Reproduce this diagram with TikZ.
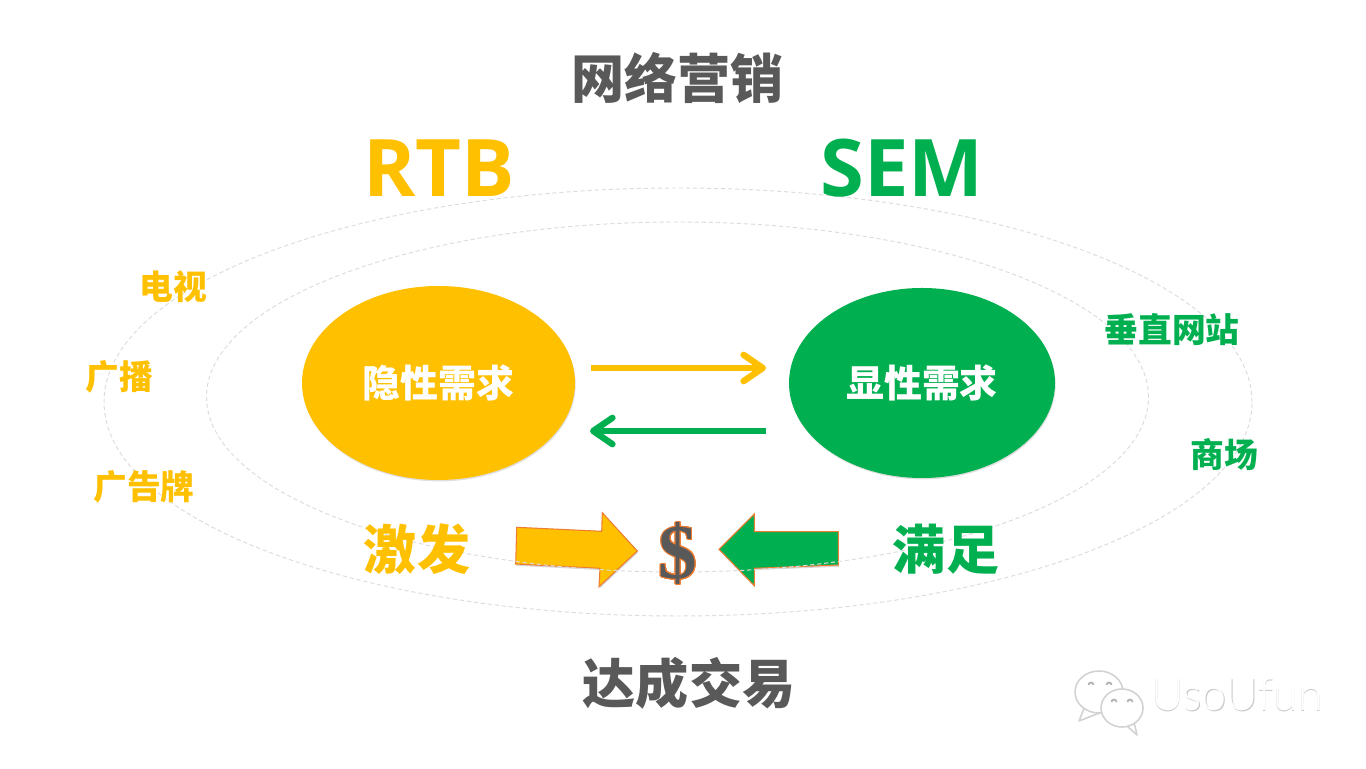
\documentclass[tikz,border=0pt]{standalone}
\usepackage{fontspec}
\usepackage{xcolor}
\usepackage{contour}
\setmainfont{Open Sans}
\newfontfamily\cjk{Noto Sans CJK SC}
\newfontfamily\dollarfont{Liberation Serif}
\newfontfamily\markfont{Lato}[UprightFont=* Light]
\usetikzlibrary{arrows.meta,shapes.geometric,shadows}
\definecolor{rtbcol}{HTML}{FFC000}
\definecolor{semcol}{HTML}{00B050}
\definecolor{titlecol}{HTML}{595959}
\definecolor{ringcol}{HTML}{DDDDDD}
\definecolor{edgecol}{HTML}{ED7D31}
\contourlength{0.25pt}
\tikzset{
  ring/.style={draw=ringcol,line width=0.28pt,dash pattern=on 1.2pt off 0.8pt},
  title/.style={font=\cjk\bfseries\fontsize{15.1}{15}\selectfont,text=titlecol},
  brand/.style={font=\bfseries\fontsize{22.6}{23}\selectfont},
  media/.style={font=\cjk\bfseries\fontsize{9.6}{10}\selectfont},
  need/.style={ellipse,inner sep=0pt,text=white,font=\cjk\bfseries\fontsize{10.8}{11}\selectfont,
    drop shadow={shadow xshift=0.2pt,shadow yshift=-0.4pt,opacity=0.25}},
  verb/.style={font=\cjk\bfseries\fontsize{15.1}{15}\selectfont},
  flow/.style={line width=1.8pt,-{Straight Barb[round,length=5.5pt,width=7.5pt]},
    preaction={draw=black,opacity=0.18,transform canvas={yshift=-0.7pt}}},
  block/.style={draw=edgecol,line width=0.3pt,drop shadow={shadow xshift=0.2pt,shadow yshift=-0.5pt,opacity=0.3}},
  bubble/.style={draw=gray!35,fill=white,line width=0.45pt,line join=round}
}
\begin{document}
\begin{tikzpicture}
    \useasboundingbox (0,0) rectangle (13.66,7.68);
    \fill[white] (0,0) rectangle (13.66,7.68);
    \draw[ring] (6.78,3.66) ellipse (5.74 and 2.14);

    \filldraw[block,fill=rtbcol] (5.167,2.407) -- (6.017,2.367) -- (6.023,2.553) -- (6.373,2.17)
      -- (5.99,1.813) -- (6.00,1.997) -- (5.157,2.04) -- cycle;
    \filldraw[block,fill=semcol] (8.383,2.363) -- (7.543,2.363) -- (7.543,2.54) -- (7.19,2.187)
      -- (7.543,1.823) -- (7.543,1.997) -- (8.383,2.03) -- cycle;

    \draw[ring] (6.775,3.71) ellipse (4.71 and 1.75);

    \node[title] (topic) at (6.775,6.90) {网络营销};
    \node[brand,text=rtbcol] (rtb) at (4.39,6.00) {RTB};
    \node[brand,text=semcol] (sem) at (9.02,6.00) {SEM};

    \node[media,text=rtbcol] (tv) at (1.73,4.81) {电视};
    \node[media,text=rtbcol] (radio) at (1.19,3.91) {广播};
    \node[media,text=rtbcol] (board) at (1.44,2.81) {广告牌};
    \node[media,text=semcol] (portal) at (11.72,4.38) {垂直网站};
    \node[media,text=semcol] (mall) at (12.24,3.13) {商场};

    \node[need,fill=rtbcol,minimum width=2.73cm,minimum height=1.94cm] (hidden) at (4.385,3.85) {隐性需求};
    \node[need,fill=semcol,minimum width=2.66cm,minimum height=1.90cm] (shown) at (9.22,3.85) {显性需求};

    \coordinate (hiddenout) at (5.91,4.00);
    \coordinate (shownin) at (7.66,4.00);
    \coordinate (shownout) at (7.66,3.37);
    \coordinate (hiddenin) at (5.90,3.37);
    \draw[flow,rtbcol] (hiddenout) -- (shownin);
    \draw[flow,semcol] (shownout) -- (hiddenin);

    \node[verb,text=rtbcol] (spark) at (4.17,2.19) {激发};
    \node[verb,text=semcol] (meet) at (9.46,2.19) {满足};

    \node[font=\dollarfont\bfseries\fontsize{22}{22}\selectfont,text=titlecol] (deal) at (6.78,2.14) {\contour{edgecol}{\$}};
    \node[title] (trade) at (6.89,0.85) {达成交易};

    \filldraw[bubble] (10.85,0.62) -- (10.79,0.47) -- (11.02,0.56) -- cycle;
    \filldraw[bubble] (10.99,0.76) ellipse (0.24 and 0.21);
    \filldraw[bubble] (11.28,0.41) -- (11.37,0.33) -- (11.33,0.50) -- cycle;
    \filldraw[bubble] (11.22,0.60) ellipse (0.21 and 0.19);
    \foreach \eyex/\eyey in {10.91/0.83,11.09/0.83,11.14/0.66,11.30/0.66}
      \draw[gray!60,line width=0.5pt] (\eyex-0.025,\eyey) arc (180:0:0.025);
    \node[font=\markfont\fontsize{12.8}{14}\selectfont,text=gray!45] (marklow) at (12.375,0.72) {UsoUfun};
    \node[font=\markfont\fontsize{12.8}{14}\selectfont,text=white] (mark) at (12.37,0.73) {UsoUfun};
\end{tikzpicture}
\end{document}
